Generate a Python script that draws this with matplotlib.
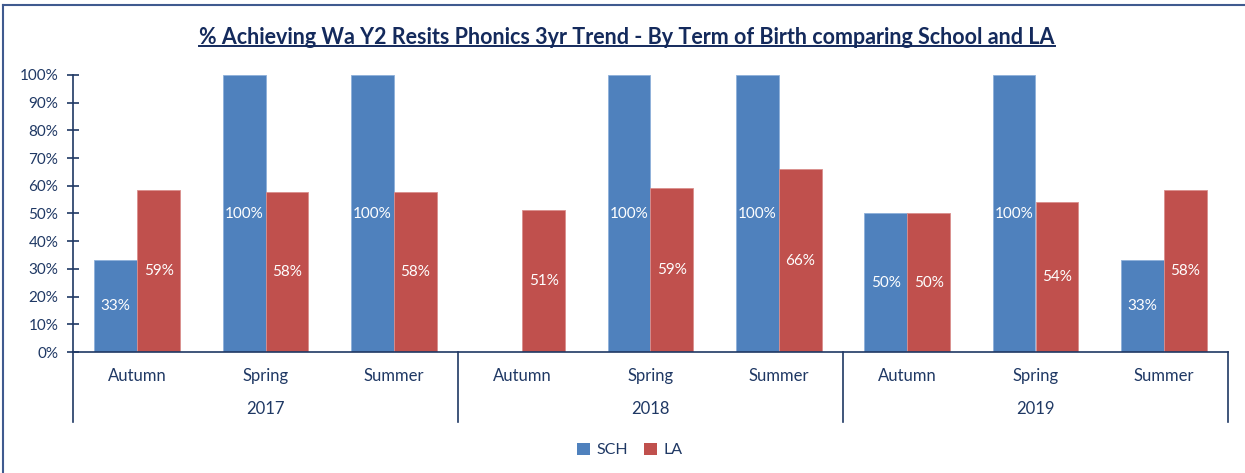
import matplotlib
matplotlib.use("Agg")
import matplotlib.pyplot as plt
import matplotlib.transforms as mtransforms
from matplotlib.patches import Patch
from matplotlib.lines import Line2D
import numpy as np

# ---- data ----
years = ["2017", "2018", "2019"]
terms = ["Autumn", "Spring", "Summer"]
sch = [33.3, 100, 100, np.nan, 100, 100, 50, 100, 33.3]
la = [58.6, 57.6, 57.6, 51.3, 59.2, 66.0, 50.0, 54.0, 58.4]
sch_labels = ["33%", "100%", "100%", "", "100%", "100%", "50%", "100%", "33%"]
la_labels = ["59%", "58%", "58%", "51%", "59%", "66%", "50%", "54%", "58%"]
y_ticks = [0, 10, 20, 30, 40, 50, 60, 70, 80, 90, 100]
title = "% Achieving Wa Y2 Resits Phonics 3yr Trend - By Term of Birth comparing School and LA"
series_names = ["SCH", "LA"]

BLUE = "#4F81BD"
RED = "#C0504D"
NAVY = "#1F3864"
TNAVY = "#142A5C"
FONT = ["Lato", "DejaVu Sans"]
plt.rcParams["font.family"] = FONT

W, H = 1245, 473
fig = plt.figure(figsize=(W / 100, H / 100), dpi=100)
ax = fig.add_axes([73 / W, 1 - 352 / H, (1228 - 73) / W, (352 - 75) / H])

n = len(sch)
x = np.arange(n)
bw = 1 / 3
b1 = ax.bar(x - bw / 2, sch, width=bw, color=BLUE, edgecolor="#8EB0DA", linewidth=0.6)
b2 = ax.bar(x + bw / 2, la, width=bw, color=RED, edgecolor="#DA8E8C", linewidth=0.6)

for bars, vals, labs in ((b1, sch, sch_labels), (b2, la, la_labels)):
    for rect, v, lab in zip(bars, vals, labs):
        if lab and not np.isnan(v):
            ax.text(rect.get_x() + rect.get_width() / 2, v / 2, lab,
                    ha="center", va="center", color="white", fontsize=11)

ax.set_xlim(-0.5, n - 0.5)
ax.set_ylim(0, 100)
ax.set_yticks(y_ticks)
ax.set_yticklabels([f"{t}%" for t in y_ticks])
ax.tick_params(axis="y", direction="inout", length=9, width=1.2, color=NAVY,
               labelcolor=NAVY, labelsize=11, pad=6)
ax.set_xticks([])
for s in ("top", "right"):
    ax.spines[s].set_visible(False)
for s in ("left", "bottom"):
    ax.spines[s].set_color(NAVY)
    ax.spines[s].set_linewidth(1.2)

# multi-level category axis
trans = mtransforms.blended_transform_factory(ax.transData, ax.transAxes)
ax_h = 352 - 75
for i in range(n):
    ax.text(x[i], -24 / ax_h, terms[i % len(terms)], transform=trans,
            ha="center", va="center", color=NAVY, fontsize=12)
for g, yr in enumerate(years):
    mid = g * len(terms) + (len(terms) - 1) / 2
    ax.text(mid, -57 / ax_h, yr, transform=trans, ha="center", va="center",
            color=NAVY, fontsize=12)
for g in range(len(years) + 1):
    xs = g * len(terms) - 0.5
    ax.add_line(Line2D([xs, xs], [0, -70 / ax_h], transform=trans, color=NAVY,
                       linewidth=1.2, clip_on=False))

# title
fig.text(627 / W, 1 - 37 / H, title, ha="center", va="center", color=TNAVY,
         fontsize=15.5, fontweight="bold")
# underline
fig.canvas.draw()
tt = fig.texts[-1]
bb = tt.get_window_extent(fig.canvas.get_renderer())
fig.add_artist(Line2D([bb.x0 / W, bb.x1 / W], [(bb.y0 + 1) / H, (bb.y0 + 1) / H],
                      transform=fig.transFigure, color=TNAVY, linewidth=1.4))

# legend
handles = [Patch(facecolor=BLUE, label=series_names[0]),
           Patch(facecolor=RED, label=series_names[1])]
leg = fig.legend(handles=handles, loc="center", bbox_to_anchor=(630 / W, 1 - 450 / H),
                 ncol=2, frameon=False, fontsize=11.5, handlelength=0.8, handleheight=0.8,
                 handletextpad=0.4, columnspacing=1.0)
for t in leg.get_texts():
    t.set_color(NAVY)

# chart frame edges
fig.add_artist(Line2D([3 / W, 1], [1 - 5 / H, 1 - 5 / H], transform=fig.transFigure,
                      color="#3F5A8F", linewidth=1.5))
fig.add_artist(Line2D([3 / W, 3 / W], [0, 1 - 5 / H], transform=fig.transFigure,
                      color="#3F5A8F", linewidth=1.5))

fig.savefig("out.png", dpi=100)
